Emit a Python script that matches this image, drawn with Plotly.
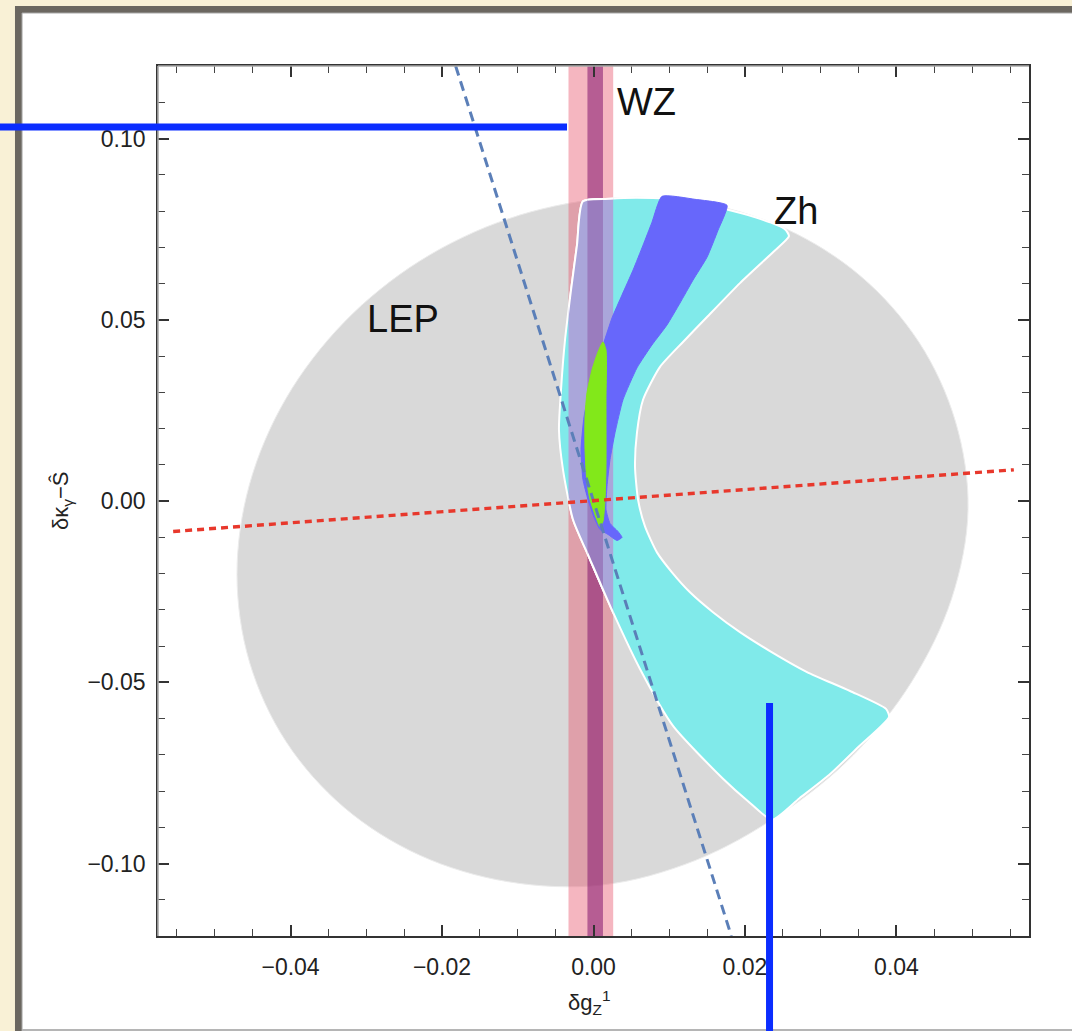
import plotly.graph_objects as go

# ---------------- plot window and ticks ----------------
X_RANGE = [-0.0575, 0.0575]
Y_RANGE = [-0.12, 0.12]
X_TICKS = [-0.04, -0.02, 0.0, 0.02, 0.04]
X_TICK_TEXT = ["\u22120.04", "\u22120.02", "0.00", "0.02", "0.04"]
Y_TICKS = [-0.10, -0.05, 0.0, 0.05, 0.10]
Y_TICK_TEXT = ["\u22120.10", "\u22120.05", "0.00", "0.05", "0.10"]

# ---------------- LEP allowed region (grey) ----------------
LEP_X = [0.04945, 0.04780, 0.04298, 0.03531, 0.02532, 0.01368, 0.00119, -0.01130,
         -0.02294, -0.03293, -0.04060, -0.04542, -0.04707, -0.04542, -0.04060, -0.03293,
         -0.02294, -0.01130, 0.00119, 0.01350, 0.02460, 0.03430, 0.04200, 0.04728, 0.04945]
LEP_Y = [-0.00234, 0.02185, 0.04378, 0.06196, 0.07515, 0.08245, 0.08335, 0.07781,
         0.06620, 0.04932, 0.02829, 0.00457, -0.02022, -0.04441, -0.06634, -0.08452,
         -0.09771, -0.10501, -0.10591, -0.09910, -0.08650, -0.07010, -0.04990, -0.02695, -0.00234]

# ---------------- Zh band (cyan) ----------------
ZH_X = [-0.00139, 0.00218, 0.00561, 0.00957, 0.01406, 0.01802, 0.02159, 0.02528, 0.02581,
        0.02370, 0.01934, 0.01499, 0.01182, 0.00878, 0.00654, 0.00574, 0.00548, 0.00588,
        0.00680, 0.00838, 0.01036, 0.01274, 0.01578, 0.01934, 0.02330, 0.02819, 0.03387,
        0.03862, 0.03902, 0.03500, 0.03110, 0.02720, 0.02357, 0.02040, 0.01710, 0.01050,
        0.00614, 0.00257, -0.00046, -0.00271, -0.00403, -0.00456, -0.00429, -0.00376,
        -0.00297, -0.00218, -0.00139]
ZH_Y = [0.08267, 0.08336, 0.08363, 0.08336, 0.08212, 0.08019, 0.07813, 0.07497, 0.07304,
        0.06864, 0.06011, 0.05076, 0.04388, 0.03700, 0.02792, 0.01884, 0.00949, 0.00041,
        -0.00702, -0.01417, -0.01967, -0.02517, -0.03067, -0.03618, -0.04140, -0.04718, -0.05241,
        -0.05736, -0.05956, -0.06780, -0.07560, -0.08200, -0.08790, -0.08281, -0.07662, -0.06204,
        -0.04635, -0.03067, -0.01609, -0.00509, 0.00867, 0.01967, 0.03067, 0.04443,
        0.05818, 0.07056, 0.08267]

# ---------------- Zh + LEP region (blue) ----------------
CORE_X = [0.00904, 0.01340, 0.01763, 0.01644, 0.01499, 0.01314, 0.01142, 0.00970, 0.00772,
          0.00574, 0.00389, 0.00284, 0.00218, 0.00178, 0.00165, 0.00218, 0.00323, 0.00376,
          0.00310, 0.00191, 0.00086, 0.00007, -0.00073, -0.00139, -0.00165, -0.00125,
          -0.00059, 0.00033, 0.00139, 0.00244, 0.00376, 0.00522, 0.00654, 0.00772, 0.00904]
CORE_Y = [0.08404, 0.08322, 0.08157, 0.07469, 0.06726, 0.06094, 0.05461, 0.04856, 0.04305,
          0.03673, 0.02792, 0.01884, 0.01142, 0.00399, -0.00234, -0.00619, -0.00839, -0.01004,
          -0.01087, -0.00922, -0.00784, -0.00454, 0.00041, 0.00591, 0.01417, 0.02325,
          0.02985, 0.03700, 0.04388, 0.05048, 0.05681, 0.06369, 0.07056, 0.07689, 0.08404]

# ---------------- combined region (green) ----------------
COMB_X = [0.00125, 0.00165, 0.00165, 0.00165, 0.00152, 0.00125, 0.00086, 0.00033,
          -0.00046, -0.00086, -0.00112, -0.00112, -0.00086, -0.00020, 0.00059, 0.00125]
COMB_Y = [0.04388, 0.04168, 0.02792, 0.00949, 0.00041, -0.00564, -0.00702, -0.00454,
          0.00041, 0.00509, 0.01417, 0.02325, 0.02985, 0.03618, 0.04113, 0.04388]

# ---------------- WZ band (x-interval) ----------------
WZ_OUTER = [-0.0033, 0.0026]
WZ_INNER = [-0.0008, 0.00125]

# ---------------- flat directions ----------------
FLAT_BLUE_X = [-0.0182, 0.0182]
FLAT_BLUE_Y = [0.12, -0.12]
FLAT_RED_X = [-0.0555, 0.0555]
FLAT_RED_Y = [-0.0084, 0.0086]

# ---------------- region labels ----------------
LABEL_TEXT = ["LEP", "WZ", "Zh"]
LABEL_X = [-0.02515, 0.00706, 0.02673]
LABEL_Y = [0.05021, 0.1102, 0.0799]

FONT = "Liberation Sans, Arial, Helvetica, sans-serif"
GREY = "#d9d9d9"
CYAN = "#80eaea"
LAVENDER = "#aaa6da"
LAVENDER_DARK = "#9a7cbe"
BLUE = "#6767fb"
GREEN = "#82e81a"


def dom(v):
    return (v - X_RANGE[0]) / (X_RANGE[1] - X_RANGE[0])


def band(lo, hi):
    return [lo, hi, hi, lo, lo], [Y_RANGE[0], Y_RANGE[0], Y_RANGE[1], Y_RANGE[1], Y_RANGE[0]]


fig = go.Figure()

# base layer: LEP ellipse, WZ band, Zh band
fig.add_trace(go.Scatter(x=LEP_X, y=LEP_Y, mode="lines", fill="toself", fillcolor=GREY,
                         line=dict(color="#ececec", width=1, shape="spline", smoothing=1.0),
                         hoverinfo="skip", xaxis="x", yaxis="y"))
bx, by = band(*WZ_OUTER)
fig.add_trace(go.Scatter(x=bx, y=by, mode="lines", fill="toself",
                         fillcolor="rgba(230,80,105,0.42)", line=dict(width=0),
                         hoverinfo="skip", xaxis="x", yaxis="y"))
bx, by = band(*WZ_INNER)
fig.add_trace(go.Scatter(x=bx, y=by, mode="lines", fill="toself",
                         fillcolor="rgba(130,20,110,0.55)", line=dict(width=0),
                         hoverinfo="skip", xaxis="x", yaxis="y"))
fig.add_trace(go.Scatter(x=ZH_X, y=ZH_Y, mode="lines", fill="toself", fillcolor=CYAN,
                         line=dict(color="white", width=2, shape="spline", smoothing=0.6),
                         hoverinfo="skip", xaxis="x", yaxis="y"))

# Zh band seen through the WZ band (clipped by narrower subplots)
fig.add_trace(go.Scatter(x=ZH_X, y=ZH_Y, mode="lines", fill="toself", fillcolor=LAVENDER,
                         line=dict(color="white", width=2, shape="spline", smoothing=0.6),
                         hoverinfo="skip", xaxis="x2", yaxis="y2"))
fig.add_trace(go.Scatter(x=ZH_X, y=ZH_Y, mode="lines", fill="toself", fillcolor=LAVENDER_DARK,
                         line=dict(color="white", width=2, shape="spline", smoothing=0.6),
                         hoverinfo="skip", xaxis="x3", yaxis="y3"))

# top layer: blue and green regions, flat directions
fig.add_trace(go.Scatter(x=CORE_X, y=CORE_Y, mode="lines", fill="toself", fillcolor=BLUE,
                         line=dict(color=BLUE, width=1, shape="spline", smoothing=0.5),
                         hoverinfo="skip", xaxis="x4", yaxis="y4"))
fig.add_trace(go.Scatter(x=COMB_X, y=COMB_Y, mode="lines", fill="toself", fillcolor=GREEN,
                         line=dict(color=GREEN, width=1, shape="spline", smoothing=0.6),
                         hoverinfo="skip", xaxis="x4", yaxis="y4"))
fig.add_trace(go.Scatter(x=FLAT_BLUE_X, y=FLAT_BLUE_Y, mode="lines",
                         line=dict(color="#5b7fb8", width=3, dash="10px,6px"),
                         hoverinfo="skip", xaxis="x4", yaxis="y4"))
fig.add_trace(go.Scatter(x=FLAT_RED_X, y=FLAT_RED_Y, mode="lines",
                         line=dict(color="#e8382c", width=3.4, dash="7px,5px"),
                         hoverinfo="skip", xaxis="x4", yaxis="y4"))

tickfont = dict(family=FONT, size=23, color="#222")
hidden = dict(visible=False, showgrid=False, zeroline=False, fixedrange=True)

fig.update_layout(
    width=1072, height=1031, autosize=False,
    margin=dict(l=158, r=43, t=66, b=95),
    paper_bgcolor="#f9f1d6", plot_bgcolor="rgba(0,0,0,0)",
    showlegend=False,
    xaxis=dict(range=X_RANGE, domain=[0, 1], tickmode="array", tickvals=X_TICKS,
               ticktext=X_TICK_TEXT, ticks="inside", ticklen=11, tickwidth=1.5,
               tickcolor="#333", showline=True, linecolor="#333", linewidth=1.6,
               mirror="ticks", showgrid=False, zeroline=False, tickfont=tickfont,
               ticklabelstandoff=10,
               minor=dict(tick0=0, dtick=0.005, ticks="inside", ticklen=7,
                          tickwidth=1.2, tickcolor="#444", showgrid=False)),
    yaxis=dict(range=Y_RANGE, domain=[0, 1], tickmode="array", tickvals=Y_TICKS,
               ticktext=Y_TICK_TEXT, ticks="inside", ticklen=11, tickwidth=1.5,
               tickcolor="#333", showline=True, linecolor="#333", linewidth=1.6,
               mirror="ticks", showgrid=False, zeroline=False, tickfont=tickfont,
               ticklabelstandoff=6,
               minor=dict(tick0=0, dtick=0.01, ticks="inside", ticklen=7,
                          tickwidth=1.2, tickcolor="#444", showgrid=False)),
    xaxis2=dict(hidden, range=WZ_OUTER, domain=[dom(WZ_OUTER[0]), dom(WZ_OUTER[1])], anchor="y2"),
    yaxis2=dict(hidden, range=Y_RANGE, domain=[0, 1], anchor="x2"),
    xaxis3=dict(hidden, range=WZ_INNER, domain=[dom(WZ_INNER[0]), dom(WZ_INNER[1])], anchor="y3"),
    yaxis3=dict(hidden, range=Y_RANGE, domain=[0, 1], anchor="x3"),
    xaxis4=dict(hidden, range=X_RANGE, domain=[0, 1], anchor="y4"),
    yaxis4=dict(hidden, range=Y_RANGE, domain=[0, 1], anchor="x4"),
)

# slide frame: dark border around a white panel
fig.add_shape(type="rect", xref="paper", yref="paper", x0=-0.1642, x1=1.2, y0=-0.2, y1=1.069,
              fillcolor="#6b6760", line=dict(width=0), layer="below")
fig.add_shape(type="rect", xref="paper", yref="paper", x0=-0.1561, x1=1.2, y0=-0.2, y1=1.0609,
              fillcolor="white", line=dict(color="#aaaaaa", width=1), layer="below")
fig.add_shape(type="line", xref="paper", yref="paper", x0=-0.1561, x1=1.2, y0=-0.1080, y1=-0.1080,
              line=dict(color="#b5b5b5", width=2), layer="below")

# light upper/left frame edges
fig.add_shape(type="line", xref="paper", yref="paper", x0=0, x1=1, y0=1, y1=1,
              line=dict(color="#a8a8a8", width=1.6), layer="above")
fig.add_shape(type="line", xref="paper", yref="paper", x0=0, x1=0, y0=0, y1=1,
              line=dict(color="#a8a8a8", width=1.6), layer="above")

# pointer bars
fig.add_shape(type="line", xref="paper", yref="paper", x0=-0.19, x1=0.4696, y0=0.9299, y1=0.9299,
              line=dict(color="#0b2dff", width=7), layer="above")
fig.add_shape(type="line", xref="paper", yref="paper", x0=0.7021, x1=0.7021, y0=0.2678, y1=-0.13,
              line=dict(color="#0b2dff", width=7), layer="above")

for t, x, y in zip(LABEL_TEXT, LABEL_X, LABEL_Y):
    fig.add_annotation(text=t, x=x, y=y, xref="x", yref="y", showarrow=False,
                       font=dict(family=FONT, size=38, color="#111"))

fig.add_annotation(text="\u03b4g<sub>Z</sub><sup>1</sup>", xref="paper", yref="paper",
                   x=0.4948, y=-0.077, showarrow=False, yanchor="middle",
                   font=dict(family=FONT, size=22, color="#222"))
fig.add_annotation(text="\u03b4\u03ba<sub>\u03b3</sub>\u2212\u015c", xref="paper", yref="paper",
                   x=-0.1286, y=0.5, showarrow=False, textangle=-90,
                   font=dict(family=FONT, size=22, color="#222"))

fig.write_html("out.html")
